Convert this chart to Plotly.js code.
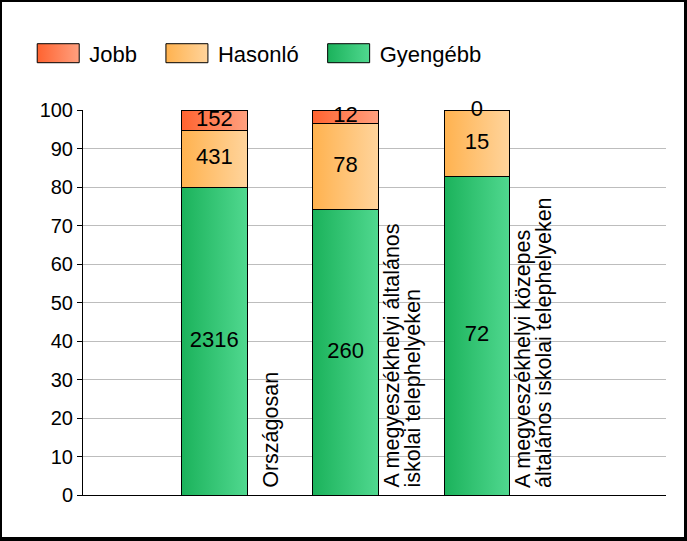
<!DOCTYPE html>
<html><head><meta charset="utf-8">
<script src="https://cdn.plot.ly/plotly-3.0.1.min.js"></script>
<style>
html,body{margin:0;padding:0;background:#fff;}
#frame{position:absolute;left:0;top:0;width:687px;height:541px;box-sizing:border-box;border-style:solid;border-color:#000;border-width:2px 3px 4px 2px;background:#fff;}
#chart{width:682px;height:535px;}
</style></head><body>
<div id="frame"><div id="chart"></div></div>
<script>
// ---- data ----
const categories = ["Országosan", "A megyeszékhelyi általános iskolai telephelyeken", "A megyeszékhelyi közepes általános iskolai telephelyeken"];
const categoryLines = [
  ["Országosan"],
  ["A megyeszékhelyi általános", "iskolai telephelyeken"],
  ["A megyeszékhelyi közepes", "általános iskolai telephelyeken"]
];
const gyengebb = [2316, 260, 72];
const hasonlo = [431, 78, 15];
const jobb = [152, 12, 0];
const seriesNames = ["Gyengébb", "Hasonló", "Jobb"];
const yTickVals = [0, 10, 20, 30, 40, 50, 60, 70, 80, 90, 100];

// ---- styles ----
const FONT = '"Liberation Sans", Arial, sans-serif';
const gradStops = [
  ["#1bb25b", "#50d88f"],   // Gyengébb
  ["#ffb24f", "#ffd49c"],   // Hasonló
  ["#ff6330", "#ffa07f"]    // Jobb
];
const midColors = ["#36c575", "#ffc376", "#ff8258"];

const series = [gyengebb, hasonlo, jobb];
const totals = categories.map((c, i) => gyengebb[i] + hasonlo[i] + jobb[i]);
const xPos = categories.map((c, i) => i + 1);
const pcts = series.map(vals => vals.map((v, i) => v / totals[i] * 100));

const data = series.map((vals, k) => ({
  type: 'bar',
  name: seriesNames[k],
  x: xPos,
  y: pcts[k],
  width: 0.5,
  marker: {color: midColors[k], line: {color: '#000', width: 1}},
  hoverinfo: 'skip'
}));

// value labels centred on each stacked segment
const cum = xPos.map(() => 0);
series.forEach((vals, k) => {
  const mids = vals.map((v, i) => cum[i] + pcts[k][i] / 2);
  vals.forEach((v, i) => { cum[i] += pcts[k][i]; });
  data.push({
    type: 'scatter', mode: 'text', showlegend: false, hoverinfo: 'skip',
    x: xPos, y: mids, text: vals.map(v => String(v)),
    textposition: 'middle center', cliponaxis: false,
    textfont: {family: FONT, size: 22, color: '#000'}
  });
});

const annotations = [];
categoryLines.forEach((lines, i) => {
  lines.forEach((ln, j) => {
    annotations.push({
      x: xPos[i] + 0.43, y: 0, xref: 'x', yref: 'y',
      text: ln, textangle: -90, showarrow: false,
      xanchor: 'center', yanchor: 'bottom',
      xshift: (j - (lines.length - 1) / 2) * 21, yshift: 5,
      font: {family: FONT, size: 21.5, color: '#000'}
    });
  });
});

const layout = {
  width: 682, height: 535,
  margin: {l: 80, r: 18, t: 108, b: 42, pad: 0},
  paper_bgcolor: '#fff', plot_bgcolor: '#fff',
  font: {family: FONT, size: 20, color: '#000'},
  barmode: 'stack',
  showlegend: true,
  legend: {
    orientation: 'h', traceorder: 'reversed',
    x: -0.1178, xanchor: 'left', y: 1.147, yanchor: 'middle',
    font: {family: FONT, size: 22, color: '#000'},
    itemwidth: 66, bgcolor: 'rgba(0,0,0,0)'
  },
  xaxis: {
    range: [0, 4.44], showticklabels: false, ticks: '', showgrid: false,
    zeroline: false, showline: true, linecolor: '#000', linewidth: 1, fixedrange: true
  },
  yaxis: {
    range: [0, 100], tickvals: yTickVals, ticks: 'outside', ticklen: 5, tickcolor: '#000',
    showline: true, linecolor: '#000', linewidth: 1, showgrid: true, gridcolor: '#bdbdbd',
    zeroline: false, tickfont: {family: FONT, size: 20, color: '#000'}, fixedrange: true
  },
  annotations: annotations
};

Plotly.newPlot('chart', data, layout, {staticPlot: true, displayModeBar: false}).then(gd => {
  const ns = 'http://www.w3.org/2000/svg';
  const svg = gd.querySelector('svg.main-svg');
  let defs = svg.querySelector('defs');
  if (!defs) { defs = document.createElementNS(ns, 'defs'); svg.insertBefore(defs, svg.firstChild); }
  gradStops.forEach((st, k) => {
    const lg = document.createElementNS(ns, 'linearGradient');
    lg.setAttribute('id', 'barGrad' + k);
    lg.setAttribute('x1', '0'); lg.setAttribute('y1', '0');
    lg.setAttribute('x2', '1'); lg.setAttribute('y2', '0');
    st.forEach((c, s) => {
      const stop = document.createElementNS(ns, 'stop');
      stop.setAttribute('offset', s === 0 ? '0' : '1');
      stop.setAttribute('stop-color', c);
      lg.appendChild(stop);
    });
    defs.appendChild(lg);
  });
  gd.querySelectorAll('.barlayer .trace').forEach((tr, k) => {
    tr.querySelectorAll('.point path').forEach(p => { p.style.fill = 'url(#barGrad' + k + ')'; });
  });
  gd.querySelectorAll('.legend .traces').forEach(tr => {
    const txt = tr.querySelector('text.legendtext');
    const k = seriesNames.indexOf(txt.textContent);
    const p = tr.querySelector('.legendpoints path');
    if (!p || k < 0) return;
    p.style.fill = 'url(#barGrad' + k + ')';
    p.style.stroke = '#000'; p.style.strokeWidth = '1px';
    const tm = tr.getCTM(), pm = p.getCTM();
    const offX = pm.e - tm.e;
    const tx = parseFloat(txt.getAttribute('x'));
    const left = tx - 52 - offX, right = tx - 10 - offX;
    p.setAttribute('d', 'M' + left + ',-9.5H' + right + 'V9.5H' + left + 'Z');
  });
});
</script>
</body></html>
